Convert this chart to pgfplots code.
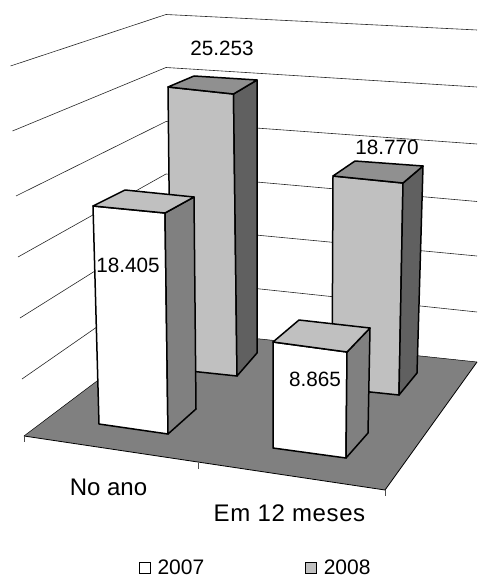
\documentclass[border=0pt]{standalone}
\usepackage{fontspec}
\setmainfont{Liberation Sans}
\usepackage{pgfplots}
\pgfplotsset{compat=1.18}

\definecolor{floorgray}{HTML}{808080}
\definecolor{lightgray}{HTML}{C0C0C0}
\definecolor{darkside}{HTML}{606060}
\definecolor{midtop}{HTML}{909090}

% one face of a bar, corners in picture coordinates (perspective view)
\newcommand{\face}[2]{\addplot[draw=black,fill=#1,line width=1.5pt,line join=round,forget plot] coordinates {#2} --cycle;}
\newcommand{\gridl}[1]{\addplot[draw=black!85,line width=0.6pt,forget plot] coordinates {#1};}
\newcommand{\tick}[1]{\addplot[draw=black!70,line width=0.6pt,forget plot] coordinates {#1};}

\begin{document}
\begin{tikzpicture}
\begin{axis}[
    name=ax,
    scale only axis,
    width=477pt, height=577pt,
    xmin=0, xmax=477, ymin=0, ymax=577,
    y dir=reverse,
    axis lines=none,
    clip=false,
    no marks,
    legend columns=2,
    legend style={at={(axis cs:255.5,567.5)},anchor=center,draw=none,fill=none,font=\fontsize{21}{22}\selectfont,
        /tikz/every odd column/.append style={column sep=5pt},
        /tikz/every even column/.append style={column sep=98.5pt}},
    legend image code/.code={\draw[#1] (0pt,-5.5pt) rectangle (11pt,5.5pt);},
]
% gridlines on the two back walls
\gridl{(10.5,66) (166,14.5) (477,30)}
\gridl{(12.5,131) (166,67.5) (477,87)}
\gridl{(16,196) (166,121.5) (477,144)}
\gridl{(18,257) (166,174) (477,201.5)}
\gridl{(20,318) (166,226.5) (477,256)}
\gridl{(22,379) (166,279) (477,312)}

% floor
\addplot[fill=floorgray,draw=none,forget plot] coordinates {(24,436) (166,329) (477,362) (385,490)} --cycle;
\addplot[draw=black,line width=0.8pt,forget plot] coordinates {(24,436) (385,490) (477,362)};
\addplot[draw=black,line width=0.5pt,forget plot] coordinates {(24,436) (166,329) (477,362)};
\tick{(24,436) (24,442)}
\tick{(198,463) (198,468.5)}
\tick{(385,490) (385,496)}

% No ano, 2008 (25.253)
\face{lightgray}{(168,87) (233.5,94) (237,376) (171,369)}
\face{darkside}{(233.5,94) (257,80) (257,353) (237,376)}
\face{midtop}{(168,87) (194,76) (257,80) (233.5,94)}
% Em 12 meses, 2008 (18.770)
\face{lightgray}{(333,176) (403,183) (399,395) (332,388)}
\face{darkside}{(403,183) (423,166) (417,373) (399,395)}
\face{midtop}{(333,176) (355,161) (423,166) (403,183)}
% No ano, 2007 (18.405)
\face{white}{(93,206) (165,213) (168,434) (99,424)}
\face{floorgray}{(165,213) (194,197) (196,409) (168,434)}
\face{lightgray}{(93,206) (125,190) (194,197) (165,213)}
% Em 12 meses, 2007 (8.865)
\face{white}{(273,342) (347,352) (346,458) (273,448)}
\face{floorgray}{(347,352) (370,328) (368,433) (346,458)}
\face{lightgray}{(273,342) (299,320) (370,328) (347,352)}

\addlegendimage{draw=black,fill=white,line width=1pt}
\addlegendentry{2007}
\addlegendimage{draw=black,fill=lightgray,line width=1pt}
\addlegendentry{2008}

\begin{scope}[every node/.style={font=\fontsize{20.7}{22}\selectfont,inner sep=0pt,anchor=center}]
\node at (axis cs:222,48) {25.253};
\node at (axis cs:128,265) {18.405};
\node at (axis cs:387,147) {18.770};
\node at (axis cs:315,379) {8.865};
\node[font=\fontsize{24}{26}\selectfont] at (axis cs:108.5,487) {No ano};
\node[font=\fontsize{24}{26}\selectfont\addfontfeature{LetterSpace=2.5}] at (axis cs:289.5,513) {Em 12 meses};
\end{scope}
\end{axis}
\pgfresetboundingbox
\path (ax.south west) rectangle (ax.north east);
\end{tikzpicture}
\end{document}
